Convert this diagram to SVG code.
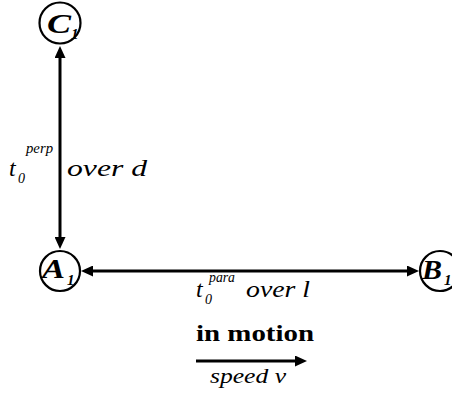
<svg xmlns="http://www.w3.org/2000/svg" width="452" height="393" viewBox="0 0 452 393">
<style>
  .bg { fill: #ffffff; }
  .node { fill: #ffffff; stroke: #000000; stroke-width: 2.2; }
  .conn { stroke: #000000; stroke-width: 3; fill: none; }
  text { font-family: 'Liberation Serif', 'DejaVu Serif', 'Noto Serif', serif; fill: #000000; }
  .nl { font-size: 28px; font-weight: bold; font-style: italic; }
  .ns { font-size: 15px; font-weight: bold; font-style: italic; }
  .lab { font-size: 24px; font-style: italic; }
  .sub { font-size: 14px; font-style: italic; }
  .sup { font-size: 14px; font-style: italic; }
  .bold { font-size: 24px; font-weight: bold; }
  .spd { font-size: 22px; font-style: italic; }
</style>
<defs>
  <marker id="ah" viewBox="0 0 12 11" refX="6" refY="5.5" markerWidth="12" markerHeight="11" markerUnits="userSpaceOnUse" orient="auto-start-reverse">
    <path d="M0,0 L12,5.5 L0,11 z" fill="#000000"/>
  </marker>
</defs>
<rect class="bg" x="0" y="0" width="452" height="393"/>

<g id="connectors">
  <line class="conn" x1="60" y1="52" x2="60" y2="243" marker-start="url(#ah)" marker-end="url(#ah)"/>
  <line class="conn" x1="87" y1="271" x2="413" y2="271" marker-start="url(#ah)" marker-end="url(#ah)"/>
  <line class="conn" x1="196" y1="361" x2="301" y2="361" marker-end="url(#ah)"/>
</g>

<g id="node-C1">
  <circle class="node" cx="60" cy="23" r="20.5"/>
  <text class="nl" x="47" y="33" textLength="24" lengthAdjust="spacingAndGlyphs">C</text>
  <text class="ns" x="71" y="39">1</text>
</g>
<g id="node-A1">
  <circle class="node" cx="60" cy="271" r="20"/>
  <text class="nl" x="42" y="278" textLength="23" lengthAdjust="spacingAndGlyphs">A</text>
  <text class="ns" x="67" y="285">1</text>
</g>
<g id="node-B1">
  <circle class="node" cx="440" cy="271" r="20"/>
  <text class="nl" x="422" y="279" textLength="20" lengthAdjust="spacingAndGlyphs">B</text>
  <text class="ns" x="444" y="285">1</text>
</g>

<g id="labels">
  <text class="lab" x="9" y="176">t</text>
  <text class="sub" x="18" y="183">0</text>
  <text class="sup" x="26" y="153" textLength="27" lengthAdjust="spacingAndGlyphs">perp</text>
  <text class="lab" x="67" y="176" textLength="80" lengthAdjust="spacingAndGlyphs">over d</text>

  <text class="lab" x="196" y="297">t</text>
  <text class="sub" x="205" y="304">0</text>
  <text class="sup" x="209" y="282" textLength="26" lengthAdjust="spacingAndGlyphs">para</text>
  <text class="lab" x="246" y="297" textLength="64" lengthAdjust="spacingAndGlyphs">over l</text>

  <text class="bold" x="196" y="341" textLength="118" lengthAdjust="spacingAndGlyphs">in motion</text>
  <text class="spd" x="210" y="383" textLength="76" lengthAdjust="spacingAndGlyphs">speed v</text>
</g>
</svg>
